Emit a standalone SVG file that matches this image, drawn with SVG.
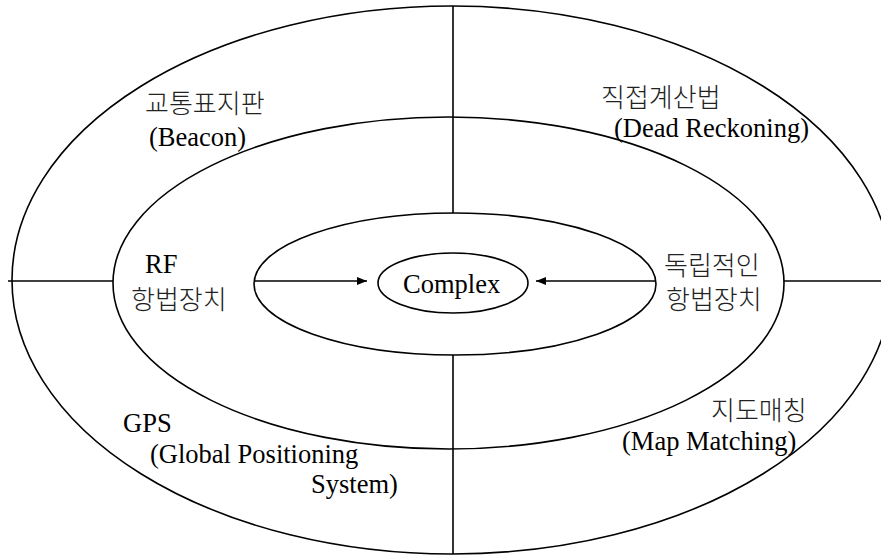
<svg xmlns="http://www.w3.org/2000/svg" width="881" height="557" viewBox="0 0 881 557">
  <defs>
    <marker id="arrowhead" viewBox="0 0 10 8" refX="10" refY="4" markerWidth="10" markerHeight="8" markerUnits="userSpaceOnUse" orient="auto">
      <path d="M0,0 L10,4 L0,8 Z" fill="#000"/>
    </marker>
    <style>
      .ring { fill: none; stroke: #000; stroke-width: 1.6; }
      .divider { stroke: #000; stroke-width: 1.6; fill: none; }
      .arrow { stroke: #000; stroke-width: 1.6; fill: none; marker-end: url(#arrowhead); }
      .en { font-family: "Liberation Serif", "Times New Roman", serif; font-size: 26.5px; fill: #000; }
      .ko { font-family: "Noto Sans CJK KR", "Liberation Serif", sans-serif; font-size: 26px; font-weight: 300; fill: #222; }
    </style>
  </defs>
  <rect width="881" height="557" fill="#fff"/>

  <!-- concentric rings -->
  <g id="outer-ring">
    <ellipse class="ring" cx="452" cy="280" rx="440" ry="274"/>
  </g>
  <g id="middle-ring">
    <ellipse class="ring" cx="448.5" cy="283" rx="335.5" ry="166"/>
  </g>
  <g id="inner-ring">
    <ellipse class="ring" cx="455" cy="284" rx="201" ry="71"/>
  </g>

  <!-- quadrant dividers and arrows toward the centre -->
  <g id="connectors">
    <line class="divider" x1="453" y1="6" x2="453" y2="213"/>
    <line class="divider" x1="453" y1="355" x2="453" y2="554"/>
    <line class="divider" x1="8" y1="281" x2="113" y2="281"/>
    <line class="divider" x1="784" y1="281" x2="881" y2="281"/>
    <line class="arrow" x1="254" y1="281" x2="367" y2="281"/>
    <line class="arrow" x1="656" y1="281" x2="536" y2="281"/>
  </g>

  <g id="complex">
    <ellipse class="ring" cx="453" cy="283" rx="75" ry="30"/>
    <text class="en" x="403" y="293">Complex</text>
  </g>

  <g id="beacon">
    <text class="ko" x="145" y="113">교통표지판</text>
    <text class="en" x="149" y="146">(Beacon)</text>
  </g>

  <g id="dead-reckoning">
    <text class="ko" x="601" y="107">직접계산법</text>
    <text class="en" x="614" y="137">(Dead Reckoning)</text>
  </g>

  <g id="rf-navigation">
    <text class="en" x="145" y="273">RF</text>
    <text class="ko" x="131" y="309">항법장치</text>
  </g>

  <g id="independent-navigation">
    <text class="ko" x="664" y="275">독립적인</text>
    <text class="ko" x="666" y="309">항법장치</text>
  </g>

  <g id="gps">
    <text class="en" x="123" y="432">GPS</text>
    <text class="en" x="150" y="463">(Global Positioning</text>
    <text class="en" x="311" y="493">System)</text>
  </g>

  <g id="map-matching">
    <text class="ko" x="711" y="420">지도매칭</text>
    <text class="en" x="622" y="450">(Map Matching)</text>
  </g>
</svg>
